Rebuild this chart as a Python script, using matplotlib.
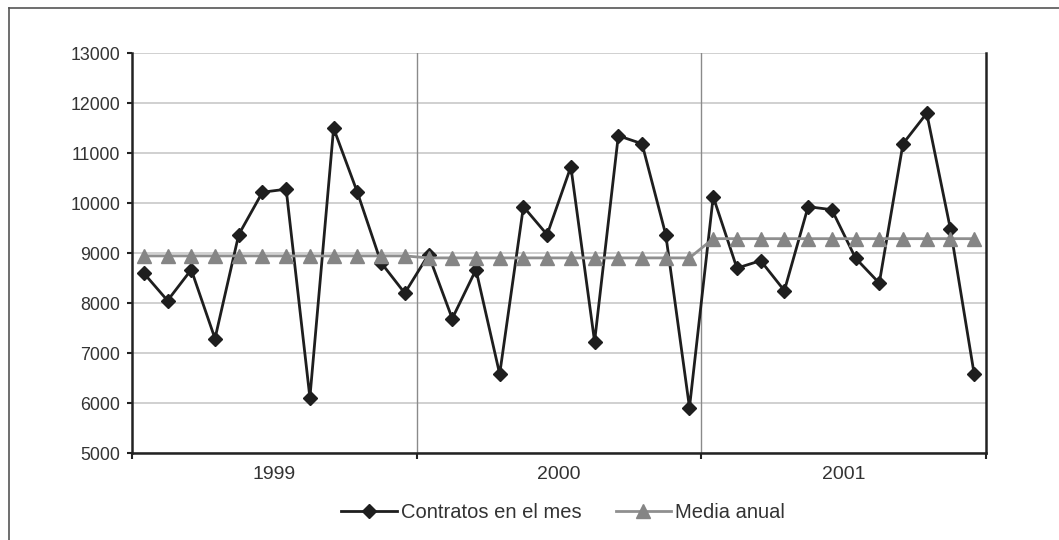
import matplotlib.pyplot as plt
from matplotlib.lines import Line2D
import numpy as np

plt.rcParams['font.family'] = ['Liberation Sans', 'DejaVu Sans']

# monthly contracts 1999-2001 and the mean of each year
years = ['1999', '2000', '2001']
contratos = [8600, 8050, 8670, 7290, 9370, 10220, 10280, 6110, 11500, 10220, 8810, 8200,
             8970, 7690, 8670, 6580, 9930, 9370, 10730, 7230, 11350, 11190, 9370, 5910,
             10130, 8700, 8850, 8250, 9930, 9870, 8900, 8400, 11190, 11800, 9480, 6580]
media_anual = [8945, 8905, 9290]

meses = np.arange(len(contratos))
media = np.repeat(media_anual, 12)

fig = plt.figure(figsize=(10.59, 5.40), dpi=100)
ax = fig.add_axes([0.1246, 0.1611, 0.8065, 0.7402])

txt = '#333333'
ax.plot(meses, contratos, color='#1e1e1e', lw=2.0, marker='D', ms=7.5,
        mfc='#1e1e1e', mec='#1e1e1e', label='Contratos en el mes', zorder=3)
ax.plot(meses, media, color='#8f8f8f', lw=2.0, marker='^', ms=10,
        mfc='#858585', mec='#858585', label='Media anual', zorder=4)

ax.set_xlim(-0.5, 35.5)
ax.set_ylim(5000, 13000)
ax.set_yticks(np.arange(5000, 13001, 1000))
ax.yaxis.grid(True, color='#c8c8c8', lw=1.2, zorder=0)
ax.set_axisbelow(True)

# year boundaries: ticks on the axis plus thin vertical separators
bounds = [-0.5, 11.5, 23.5, 35.5]
ax.set_xticks(bounds)
ax.set_xticklabels([])
ax.set_xticks([5.5, 17.5, 29.5], minor=True)
ax.set_xticklabels(years, minor=True)
ax.tick_params(axis='x', which='minor', length=0, pad=9, labelsize=14, labelcolor=txt)
ax.tick_params(axis='x', which='major', length=4, width=1.5, color='#222222', direction='out')
ax.tick_params(axis='y', length=3.6, width=1.5, color='#222222', labelsize=12.8,
               labelcolor=txt, pad=5)
for b in bounds[1:-1]:
    ax.axvline(b, color='#8a8a8a', lw=1.0, zorder=1)

for s in ['left', 'bottom', 'right']:
    ax.spines[s].set_color('#222222')
    ax.spines[s].set_linewidth(1.8)
ax.spines['top'].set_visible(False)

ax.legend(loc='center', bbox_to_anchor=(0.505, -0.15), ncol=2, frameon=False,
          fontsize=14.5, handlelength=2.75, numpoints=1, columnspacing=1.7,
          handletextpad=0.2, labelcolor=txt)

# outer chart frame
fig.add_artist(Line2D([9 / 1059, 9 / 1059], [0, 1 - 8 / 540], color='#555555', lw=1.2))
fig.add_artist(Line2D([9 / 1059, 1], [1 - 8 / 540, 1 - 8 / 540], color='#555555', lw=1.2))

fig.savefig('out.png', dpi=100)
